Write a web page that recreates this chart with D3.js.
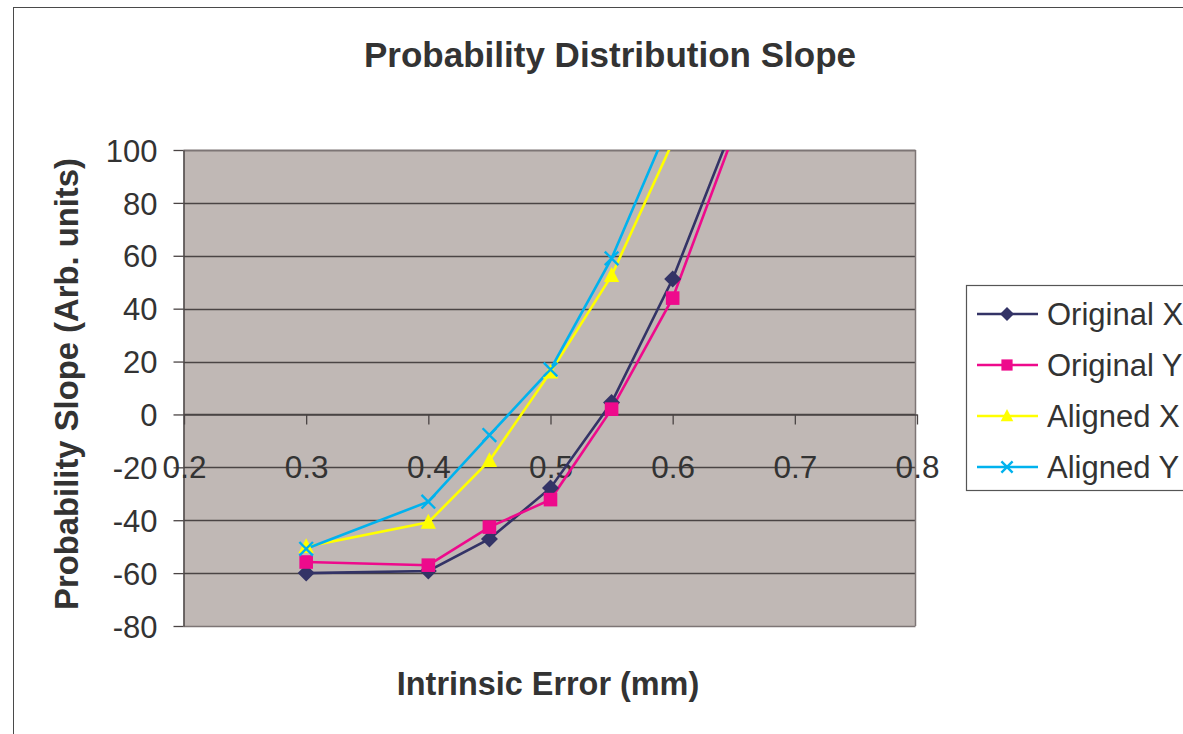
<!DOCTYPE html>
<html>
<head>
<meta charset="utf-8">
<script src="https://cdn.jsdelivr.net/npm/d3@7/dist/d3.min.js"></script>
<style>
  html, body { margin: 0; padding: 0; background: #ffffff; }
  svg { display: block; }
  text { font-family: "Liberation Sans", Arial, sans-serif; fill: #333333; }
</style>
</head>
<body>
<svg id="chart" width="1183" height="734"></svg>
<script>
// Intrinsic error (mm) at which each series was sampled
const errOriginal = [0.3, 0.4, 0.45, 0.5, 0.55, 0.6, 0.65];
const errAligned  = [0.3, 0.4, 0.45, 0.5, 0.55, 0.6];

// Probability slope values (arb. units)
const originalX = [-60, -59.2, -47.1, -27.8, 4.5, 51.2, 110];
const originalY = [-55.8, -57, -42.6, -32.2, 2, 44, 106];
const alignedX  = [-50, -40.8, -17.5, 16, 52.5, 103];
const alignedY  = [-50.8, -33, -7.8, 17, 59, 113];

const seriesNames = ["Original X", "Original Y", "Aligned X", "Aligned Y"];
const xTicks = [0.2, 0.3, 0.4, 0.5, 0.6, 0.7, 0.8];
const yTicks = [-80, -60, -40, -20, 0, 20, 40, 60, 80, 100];

const series = [
  { name: seriesNames[0], xs: errOriginal, ys: originalX, color: "#333366", symbol: "diamond" },
  { name: seriesNames[1], xs: errOriginal, ys: originalY, color: "#EE0A8C", symbol: "square" },
  { name: seriesNames[2], xs: errAligned,  ys: alignedX,  color: "#FFFF00", symbol: "triangle" },
  { name: seriesNames[3], xs: errAligned,  ys: alignedY,  color: "#00B2EE", symbol: "cross" }
];

const svg = d3.select("#chart");

// Chart frame
svg.append("rect")
  .attr("x", 13.5).attr("y", 7.5)
  .attr("width", 1200).attr("height", 760)
  .attr("fill", "#ffffff").attr("stroke", "#4a4a4a").attr("stroke-width", 1);

const plot = { left: 183.5, right: 915.5, top: 150, bottom: 626 };

const x = d3.scaleLinear().domain([0.2, 0.8]).range([184, 917]);
const y = d3.scaleLinear().domain([-80, 100]).range([plot.bottom, plot.top]);

// Plot area background
svg.append("rect")
  .attr("x", plot.left).attr("y", plot.top)
  .attr("width", plot.right - plot.left).attr("height", plot.bottom - plot.top)
  .attr("fill", "#C0B8B5");

// Horizontal gridlines
svg.append("g")
  .selectAll("line")
  .data(yTicks.filter(d => d !== 100 && d !== -80))
  .join("line")
  .attr("x1", plot.left).attr("x2", plot.right)
  .attr("y1", d => Math.round(y(d)) + 0.5).attr("y2", d => Math.round(y(d)) + 0.5)
  .attr("stroke", "#4a4444").attr("stroke-width", 1.4);

// Plot border
svg.append("line")
  .attr("x1", plot.left).attr("x2", plot.right)
  .attr("y1", plot.top + 0.5).attr("y2", plot.top + 0.5)
  .attr("stroke", "#7d7575").attr("stroke-width", 2);
svg.append("line")
  .attr("x1", plot.right).attr("x2", plot.right)
  .attr("y1", plot.top).attr("y2", plot.bottom)
  .attr("stroke", "#7d7575").attr("stroke-width", 1.5);
svg.append("line")
  .attr("x1", plot.left).attr("x2", plot.right)
  .attr("y1", plot.bottom + 0.5).attr("y2", plot.bottom + 0.5)
  .attr("stroke", "#7d7575").attr("stroke-width", 1.5);

// Y axis (plain hyphen for negatives)
const yAxis = svg.append("g")
  .attr("transform", `translate(${plot.left},0)`)
  .call(d3.axisLeft(y).tickValues(yTicks).tickSize(10).tickSizeOuter(0).tickPadding(16)
    .tickFormat(d => String(d)));
yAxis.select(".domain").attr("stroke", "#4a4444").attr("stroke-width", 1.5);
yAxis.selectAll(".tick line").attr("stroke", "#4a4444").attr("stroke-width", 1.3);
yAxis.selectAll(".tick text")
  .attr("font-size", 31).attr("fill", "#333333").attr("dy", "0.36em")
  .style("font-family", "Liberation Sans, Arial, sans-serif");

// X axis crossing at zero
const xAxis = svg.append("g")
  .attr("transform", `translate(0,${Math.round(y(0)) + 0.5})`)
  .call(d3.axisBottom(x).tickValues(xTicks).tickSize(10).tickSizeOuter(0).tickPadding(31)
    .tickFormat(d => d.toFixed(1)));
xAxis.select(".domain").attr("stroke", "#4a4444").attr("stroke-width", 1.3);
xAxis.selectAll(".tick line").attr("stroke", "#4a4444").attr("stroke-width", 1.3);
xAxis.selectAll(".tick text")
  .attr("font-size", 31.5).attr("fill", "#333333")
  .style("font-family", "Liberation Sans, Arial, sans-serif");

// Series clipped to the plot area
svg.append("clipPath").attr("id", "plotClip")
  .append("rect")
  .attr("x", plot.left).attr("y", plot.top)
  .attr("width", plot.right - plot.left).attr("height", plot.bottom - plot.top);

const line = d3.line().x(d => x(d[0])).y(d => y(d[1]));

function drawMarker(g, symbol, color, size) {
  const h = size / 2;
  if (symbol === "diamond") {
    g.append("path").attr("d", `M0,${-h}L${h},0L0,${h}L${-h},0Z`).attr("fill", color);
  } else if (symbol === "square") {
    const s = h * 0.8;
    g.append("rect").attr("x", -s).attr("y", -s).attr("width", 2 * s).attr("height", 2 * s).attr("fill", color);
  } else if (symbol === "triangle") {
    g.append("path").attr("d", `M0,${-h}L${h * 0.9},${h * 0.75}L${-h * 0.9},${h * 0.75}Z`).attr("fill", color);
  } else {
    const s = h * 0.8;
    g.append("path").attr("d", `M${-s},${-s}L${s},${s}M${-s},${s}L${s},${-s}`)
      .attr("stroke", color).attr("stroke-width", 2.4).attr("fill", "none");
  }
}

const seriesLayer = svg.append("g").attr("clip-path", "url(#plotClip)");
series.forEach(s => {
  const pts = s.xs.map((v, i) => [v, s.ys[i]]);
  seriesLayer.append("path")
    .datum(pts)
    .attr("d", line)
    .attr("fill", "none")
    .attr("stroke", s.color)
    .attr("stroke-width", 2.6);
});
series.forEach(s => {
  s.xs.forEach((v, i) => {
    const g = seriesLayer.append("g")
      .attr("transform", `translate(${x(v)},${y(s.ys[i])})`);
    drawMarker(g, s.symbol, s.color, 17);
  });
});

// Title
svg.append("text")
  .attr("x", 610).attr("y", 67)
  .attr("text-anchor", "middle")
  .attr("font-size", 35).attr("font-weight", "bold")
  .text("Probability Distribution Slope");

// Axis titles
svg.append("text")
  .attr("x", 548).attr("y", 695)
  .attr("text-anchor", "middle")
  .attr("font-size", 32.4).attr("font-weight", "bold")
  .text("Intrinsic Error (mm)");

svg.append("text")
  .attr("transform", "translate(78,384) rotate(-90)")
  .attr("text-anchor", "middle")
  .attr("font-size", 32.8).attr("font-weight", "bold")
  .text("Probability Slope (Arb. units)");

// Legend
const legend = svg.append("g");
legend.append("rect")
  .attr("x", 966.5).attr("y", 285.5)
  .attr("width", 260).attr("height", 205)
  .attr("fill", "#ffffff").attr("stroke", "#555555").attr("stroke-width", 1.2);

series.forEach((s, i) => {
  const cy = 314 + i * 51;
  const row = legend.append("g");
  row.append("line")
    .attr("x1", 977).attr("x2", 1038)
    .attr("y1", cy).attr("y2", cy)
    .attr("stroke", s.color).attr("stroke-width", 2.4);
  const m = row.append("g").attr("transform", `translate(1007,${cy})`);
  drawMarker(m, s.symbol, s.color, 14);
  row.append("text")
    .attr("x", 1047).attr("y", cy + 11)
    .attr("font-size", 31)
    .text(s.name);
});
</script>
</body>
</html>
